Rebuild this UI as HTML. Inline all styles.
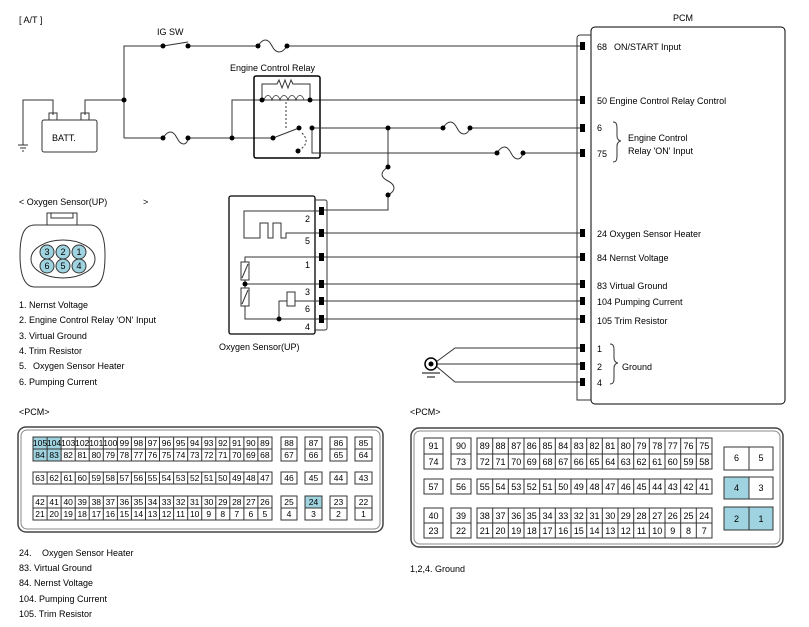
<!DOCTYPE html>
<html><head><meta charset="utf-8"><style>
body{margin:0;background:#fff}
svg{display:block;font-family:"Liberation Sans",Arial,sans-serif;font-size:9px}
text{fill:#000}
.c text{text-anchor:middle}
</style></head><body>
<svg width="809" height="627" viewBox="0 0 809 627" xmlns="http://www.w3.org/2000/svg">
<g fill="none" stroke="#333" stroke-width="1">
<path d="M124,138V46H163M188,46H258M287,46H583"/>
<path d="M163,46L188,42"/>
<path d="M258,46c5,-8 10,-8 14,0s10,8 15,0"/>
<path d="M23,145V100H53V115M85,115V100H124"/>
<rect x="42" y="120" width="55" height="32" rx="2"/>
<rect x="49" y="113" width="8" height="7"/><rect x="81" y="113" width="8" height="7"/>
<path d="M18,145h10M20,148h6M22,151h2"/>
<path d="M124,138H163M188,138H273"/>
<path d="M163,138c5,-8 10,-8 14,0s10,8 11,0"/>
<path d="M232,138V100H262H310H583"/>
<path d="M262,100V84H277l2,-4 3,8 3,-8 3,8 3,-8 2,4H310V100"/>
<path d="M264,100c2,-6 6,-6 8,0c2,-6 6,-6 8,0c2,-6 6,-6 8,0c2,-6 6,-6 8,0c2,-6 6,-6 8,0" stroke-width="0.8"/>
<rect x="254" y="76" width="66" height="82" rx="2" stroke-width="1.5" stroke="#000"/>
<path d="M286,102V130" stroke-dasharray="2,2"/>
<path d="M273,138L299,128M312,128H443M470,128H583M312,128V153H497M523,153H583"/>
<path d="M302,133c6,6 6,12 -4,18" stroke-dasharray="2,2"/>
<path d="M443,128c5,-8 10,-8 14,0s10,8 13,0"/>
<path d="M497,153c5,-8 10,-8 14,0s10,8 12,0"/>
<path d="M388,128V167M388,195V210H321"/>
<path d="M388,167c-8,5 -8,10 0,14s8,10 0,14"/>
<rect x="591" y="27" width="194" height="377" rx="4" stroke="#000"/>
<path d="M591,35H580a3,3 0 0 0 -3,3V400H591"/>
<rect x="229" y="196" width="86" height="138" rx="2" stroke="#000" stroke-width="1.3"/>
<path d="M315,200H325a2,2 0 0 1 2,2V328a2,2 0 0 1 -2,2H315"/>
<path d="M321,211H244V238H260V223H268V238H273V223H281V238H286V233H583"/>
<path d="M321,257H245V262M245,280V288M245,306V319H321M245,284H583M321,301H583M321,319H583M321,257H583"/>
<rect x="241" y="262" width="8" height="18"/><rect x="241" y="288" width="8" height="18"/>
<path d="M242,278L248,264M242,304L248,290"/>
<rect x="287" y="292" width="8" height="14"/>
<path d="M287,301H279V319M295,301H321"/>
<path d="M436,362L455,348H583M436,364H583M436,366L455,382H583"/>
<circle cx="431" cy="364" r="6" stroke="#000" stroke-width="1.5"/>
<path d="M422,373h18M427,377h8" stroke="#000"/>
<path d="M613,122c4,0 4,3 4,8v6c0,3 2,5 4,5c-2,0 -4,2 -4,5v8c0,5 0,8 -4,8"/>
<path d="M610,344c4,0 4,3 4,8v6c0,3 2,5 4,5c-2,0 -4,2 -4,5v8c0,5 0,8 -4,8"/>
<path d="M47,225V213H77V225M51,213V218H73V213"/>
<path d="M35,225H90c10,0 15,10 15,30s-3,32 -15,32H35c-10,0 -15,-10 -15,-32s5,-30 15,-30z"/>
<ellipse cx="63" cy="259" rx="32" ry="19"/>
</g>
<g fill="#000">
<circle cx="163" cy="46" r="2.5"/><circle cx="188" cy="46" r="2.5"/><circle cx="258" cy="46" r="2.5"/><circle cx="287" cy="46" r="2.5"/>
<circle cx="124" cy="100" r="2.5"/><circle cx="163" cy="138" r="2.5"/><circle cx="188" cy="138" r="2.5"/><circle cx="232" cy="138" r="2.5"/>
<circle cx="262" cy="100" r="2.5"/><circle cx="310" cy="100" r="2.5"/><circle cx="273" cy="138" r="2.5"/><circle cx="299" cy="128" r="2.5"/><circle cx="312" cy="128" r="2.5"/><circle cx="298" cy="151" r="2.5"/>
<circle cx="388" cy="128" r="2.5"/><circle cx="388" cy="167" r="2.5"/><circle cx="388" cy="195" r="2.5"/>
<circle cx="443" cy="128" r="2.5"/><circle cx="470" cy="128" r="2.5"/><circle cx="497" cy="153" r="2.5"/><circle cx="523" cy="153" r="2.5"/>
<circle cx="245" cy="284" r="2.5"/><circle cx="279" cy="319" r="2.5"/><circle cx="431" cy="364" r="2.5"/>
<rect x="580" y="42" width="5" height="8"/><rect x="580" y="96" width="5" height="8"/><rect x="580" y="124" width="5" height="8"/><rect x="580" y="149" width="5" height="8"/>
<rect x="580" y="229" width="5" height="8"/><rect x="580" y="253" width="5" height="8"/><rect x="580" y="280" width="5" height="8"/><rect x="580" y="297" width="5" height="8"/><rect x="580" y="315" width="5" height="8"/>
<rect x="580" y="344" width="5" height="8"/><rect x="580" y="362" width="5" height="8"/><rect x="580" y="378" width="5" height="8"/>
<rect x="319" y="207" width="5" height="8"/><rect x="319" y="229" width="5" height="8"/><rect x="319" y="253" width="5" height="8"/><rect x="319" y="280" width="5" height="8"/><rect x="319" y="297" width="5" height="8"/><rect x="319" y="315" width="5" height="8"/>
</g>
<g fill="#9fd3df" stroke="#333">
<circle cx="47" cy="252" r="7"/><circle cx="63" cy="252" r="7"/><circle cx="79" cy="252" r="7"/>
<circle cx="47" cy="266" r="7"/><circle cx="63" cy="266" r="7"/><circle cx="79" cy="266" r="7"/>
</g>
<g class="c"><text x="47" y="255">3</text><text x="63" y="255">2</text><text x="79" y="255">1</text><text x="47" y="269">6</text><text x="63" y="269">5</text><text x="79" y="269">4</text></g>
<text x="19" y="23">[ A/T ]</text>
<text x="157" y="35">IG SW</text>
<text x="230" y="71">Engine Control Relay</text>
<text x="52" y="141">BATT.</text>
<text x="673" y="21">PCM</text>
<text x="597" y="50">68</text><text x="614" y="50">ON/START Input</text>
<text x="597" y="104">50 Engine Control Relay Control</text>
<text x="597" y="131">6</text><text x="597" y="157">75</text>
<text x="628" y="141">Engine Control</text><text x="628" y="154">Relay 'ON' Input</text>
<text x="597" y="237">24 Oxygen Sensor Heater</text>
<text x="597" y="261">84 Nernst Voltage</text>
<text x="597" y="289">83 Virtual Ground</text>
<text x="597" y="305">104 Pumping Current</text>
<text x="597" y="324">105 Trim Resistor</text>
<text x="597" y="352">1</text><text x="597" y="370">2</text><text x="597" y="386">4</text>
<text x="622" y="370">Ground</text>
<text x="305" y="222">2</text><text x="305" y="244">5</text><text x="305" y="268">1</text><text x="305" y="295">3</text><text x="305" y="312">6</text><text x="305" y="330">4</text>
<text x="219" y="350">Oxygen Sensor(UP)</text>
<text x="19" y="205">&lt; Oxygen Sensor(UP)</text><text x="143" y="205">&gt;</text>
<text x="19" y="308">1. Nernst Voltage</text>
<text x="19" y="323">2. Engine Control Relay 'ON' Input</text>
<text x="19" y="339">3. Virtual Ground</text>
<text x="19" y="354">4. Trim Resistor</text>
<text x="19" y="369">5.</text><text x="33" y="369">Oxygen Sensor Heater</text>
<text x="19" y="385">6. Pumping Current</text>
<text x="19" y="415">&lt;PCM&gt;</text><text x="410" y="415">&lt;PCM&gt;</text>
<text x="19" y="556">24.</text><text x="42" y="556">Oxygen Sensor Heater</text>
<text x="19" y="571">83. Virtual Ground</text>
<text x="19" y="586">84. Nernst Voltage</text>
<text x="19" y="602">104. Pumping Current</text>
<text x="19" y="617">105. Trim Resistor</text>
<text x="410" y="572">1,2,4. Ground</text>

<rect x="18" y="427" width="365" height="105" rx="8" fill="none" stroke="#444" stroke-width="1.5"/>
<rect x="21" y="430" width="359" height="99" rx="6" fill="none" stroke="#888"/>
<g fill="#9fd3df"><rect x="33" y="437" width="28.1" height="24"/><rect x="305" y="496" width="17" height="12"/></g>
<g fill="none" stroke="#333">
<rect x="33" y="437" width="239" height="24"/><rect x="33" y="472" width="239" height="12"/><rect x="33" y="496" width="239" height="24"/>
<path d="M33,449H272M33,508H272"/>
<path d="M47.1,437V461M61.1,437V461M75.2,437V461M89.2,437V461M103.3,437V461M117.4,437V461M131.4,437V461M145.5,437V461M159.5,437V461M173.6,437V461M187.7,437V461M201.7,437V461M215.8,437V461M229.8,437V461M243.9,437V461M257.9,437V461"/>
<path d="M47.1,472V484M61.1,472V484M75.2,472V484M89.2,472V484M103.3,472V484M117.4,472V484M131.4,472V484M145.5,472V484M159.5,472V484M173.6,472V484M187.7,472V484M201.7,472V484M215.8,472V484M229.8,472V484M243.9,472V484M257.9,472V484"/>
<path d="M47.1,496V520M61.1,496V520M75.2,496V520M89.2,496V520M103.3,496V520M117.4,496V520M131.4,496V520M145.5,496V520M159.5,496V520M173.6,496V520M187.7,496V520M201.7,496V520M215.8,496V520M229.8,496V520M243.9,496V520M257.9,496V520"/>
<rect x="281" y="437" width="16" height="24"/><rect x="305" y="437" width="17" height="24"/><rect x="330" y="437" width="17" height="24"/><rect x="355" y="437" width="17" height="24"/>
<path d="M281,449H297M305,449H322M330,449H347M355,449H372"/>
<rect x="281" y="472" width="16" height="12"/><rect x="305" y="472" width="17" height="12"/><rect x="330" y="472" width="17" height="12"/><rect x="355" y="472" width="17" height="12"/>
<rect x="281" y="496" width="16" height="24"/><rect x="305" y="496" width="17" height="24"/><rect x="330" y="496" width="17" height="24"/><rect x="355" y="496" width="17" height="24"/>
<path d="M281,508H297M305,508H322M330,508H347M355,508H372"/>
</g>
<g class="c" style="font-size:8.5px">
<text x="40" y="446">105</text><text x="54.1" y="446">104</text><text x="68.2" y="446">103</text><text x="82.2" y="446">102</text><text x="96.3" y="446">101</text><text x="110.3" y="446">100</text><text x="124.4" y="446">99</text><text x="138.4" y="446">98</text><text x="152.5" y="446">97</text><text x="166.5" y="446">96</text><text x="180.6" y="446">95</text><text x="194.7" y="446">94</text><text x="208.7" y="446">93</text><text x="222.8" y="446">92</text><text x="236.8" y="446">91</text><text x="250.9" y="446">90</text><text x="264.9" y="446">89</text>
<text x="40" y="458">84</text><text x="54.1" y="458">83</text><text x="68.2" y="458">82</text><text x="82.2" y="458">81</text><text x="96.3" y="458">80</text><text x="110.3" y="458">79</text><text x="124.4" y="458">78</text><text x="138.4" y="458">77</text><text x="152.5" y="458">76</text><text x="166.5" y="458">75</text><text x="180.6" y="458">74</text><text x="194.7" y="458">73</text><text x="208.7" y="458">72</text><text x="222.8" y="458">71</text><text x="236.8" y="458">70</text><text x="250.9" y="458">69</text><text x="264.9" y="458">68</text>
<text x="40" y="481">63</text><text x="54.1" y="481">62</text><text x="68.2" y="481">61</text><text x="82.2" y="481">60</text><text x="96.3" y="481">59</text><text x="110.3" y="481">58</text><text x="124.4" y="481">57</text><text x="138.4" y="481">56</text><text x="152.5" y="481">55</text><text x="166.5" y="481">54</text><text x="180.6" y="481">53</text><text x="194.7" y="481">52</text><text x="208.7" y="481">51</text><text x="222.8" y="481">50</text><text x="236.8" y="481">49</text><text x="250.9" y="481">48</text><text x="264.9" y="481">47</text>
<text x="40" y="505">42</text><text x="54.1" y="505">41</text><text x="68.2" y="505">40</text><text x="82.2" y="505">39</text><text x="96.3" y="505">38</text><text x="110.3" y="505">37</text><text x="124.4" y="505">36</text><text x="138.4" y="505">35</text><text x="152.5" y="505">34</text><text x="166.5" y="505">33</text><text x="180.6" y="505">32</text><text x="194.7" y="505">31</text><text x="208.7" y="505">30</text><text x="222.8" y="505">29</text><text x="236.8" y="505">28</text><text x="250.9" y="505">27</text><text x="264.9" y="505">26</text>
<text x="40" y="517">21</text><text x="54.1" y="517">20</text><text x="68.2" y="517">19</text><text x="82.2" y="517">18</text><text x="96.3" y="517">17</text><text x="110.3" y="517">16</text><text x="124.4" y="517">15</text><text x="138.4" y="517">14</text><text x="152.5" y="517">13</text><text x="166.5" y="517">12</text><text x="180.6" y="517">11</text><text x="194.7" y="517">10</text><text x="208.7" y="517">9</text><text x="222.8" y="517">8</text><text x="236.8" y="517">7</text><text x="250.9" y="517">6</text><text x="264.9" y="517">5</text>
<text x="289" y="446">88</text><text x="313.5" y="446">87</text><text x="338.5" y="446">86</text><text x="363.5" y="446">85</text>
<text x="289" y="458">67</text><text x="313.5" y="458">66</text><text x="338.5" y="458">65</text><text x="363.5" y="458">64</text>
<text x="289" y="481">46</text><text x="313.5" y="481">45</text><text x="338.5" y="481">44</text><text x="363.5" y="481">43</text>
<text x="289" y="505">25</text><text x="313.5" y="505">24</text><text x="338.5" y="505">23</text><text x="363.5" y="505">22</text>
<text x="289" y="517">4</text><text x="313.5" y="517">3</text><text x="338.5" y="517">2</text><text x="363.5" y="517">1</text>
</g>

<rect x="411" y="428" width="372" height="119" rx="8" fill="none" stroke="#444" stroke-width="1.5"/>
<rect x="414" y="431" width="366" height="113" rx="6" fill="none" stroke="#888"/>
<g fill="#9fd3df"><rect x="724" y="477" width="25" height="22"/><rect x="724" y="507" width="49" height="23"/></g>
<g fill="none" stroke="#333">
<rect x="424" y="438" width="19" height="31"/><rect x="451" y="438" width="20" height="31"/><rect x="477" y="438" width="235" height="31"/>
<path d="M424,454H443M451,454H471M477,454H712"/>
<rect x="424" y="479" width="19" height="15"/><rect x="451" y="479" width="20" height="15"/><rect x="477" y="479" width="235" height="15"/>
<rect x="424" y="508" width="19" height="30"/><rect x="451" y="508" width="20" height="30"/><rect x="477" y="508" width="235" height="30"/>
<path d="M424,523H443M451,523H471M477,523H712"/>
<path d="M492.7,438V469M508.3,438V469M524,438V469M539.7,438V469M555.3,438V469M571,438V469M586.7,438V469M602.3,438V469M618,438V469M633.7,438V469M649.3,438V469M665,438V469M680.7,438V469M696.3,438V469"/>
<path d="M492.7,479V494M508.3,479V494M524,479V494M539.7,479V494M555.3,479V494M571,479V494M586.7,479V494M602.3,479V494M618,479V494M633.7,479V494M649.3,479V494M665,479V494M680.7,479V494M696.3,479V494"/>
<path d="M492.7,508V538M508.3,508V538M524,508V538M539.7,508V538M555.3,508V538M571,508V538M586.7,508V538M602.3,508V538M618,508V538M633.7,508V538M649.3,508V538M665,508V538M680.7,508V538M696.3,508V538"/>
<rect x="724" y="447" width="49" height="23"/><rect x="724" y="477" width="49" height="22"/><rect x="724" y="507" width="49" height="23"/>
<path d="M749,447V470M749,477V499M749,507V530"/>
</g>
<g class="c">
<text x="433.5" y="449">91</text><text x="461" y="449">90</text>
<text x="484.8" y="449">89</text><text x="500.5" y="449">88</text><text x="516.2" y="449">87</text><text x="531.8" y="449">86</text><text x="547.5" y="449">85</text><text x="563.2" y="449">84</text><text x="578.8" y="449">83</text><text x="594.5" y="449">82</text><text x="610.2" y="449">81</text><text x="625.8" y="449">80</text><text x="641.5" y="449">79</text><text x="657.2" y="449">78</text><text x="672.8" y="449">77</text><text x="688.5" y="449">76</text><text x="704.2" y="449">75</text>
<text x="433.5" y="465">74</text><text x="461" y="465">73</text>
<text x="484.8" y="465">72</text><text x="500.5" y="465">71</text><text x="516.2" y="465">70</text><text x="531.8" y="465">69</text><text x="547.5" y="465">68</text><text x="563.2" y="465">67</text><text x="578.8" y="465">66</text><text x="594.5" y="465">65</text><text x="610.2" y="465">64</text><text x="625.8" y="465">63</text><text x="641.5" y="465">62</text><text x="657.2" y="465">61</text><text x="672.8" y="465">60</text><text x="688.5" y="465">59</text><text x="704.2" y="465">58</text>
<text x="433.5" y="490">57</text><text x="461" y="490">56</text>
<text x="484.8" y="490">55</text><text x="500.5" y="490">54</text><text x="516.2" y="490">53</text><text x="531.8" y="490">52</text><text x="547.5" y="490">51</text><text x="563.2" y="490">50</text><text x="578.8" y="490">49</text><text x="594.5" y="490">48</text><text x="610.2" y="490">47</text><text x="625.8" y="490">46</text><text x="641.5" y="490">45</text><text x="657.2" y="490">44</text><text x="672.8" y="490">43</text><text x="688.5" y="490">42</text><text x="704.2" y="490">41</text>
<text x="433.5" y="519">40</text><text x="461" y="519">39</text>
<text x="484.8" y="519">38</text><text x="500.5" y="519">37</text><text x="516.2" y="519">36</text><text x="531.8" y="519">35</text><text x="547.5" y="519">34</text><text x="563.2" y="519">33</text><text x="578.8" y="519">32</text><text x="594.5" y="519">31</text><text x="610.2" y="519">30</text><text x="625.8" y="519">29</text><text x="641.5" y="519">28</text><text x="657.2" y="519">27</text><text x="672.8" y="519">26</text><text x="688.5" y="519">25</text><text x="704.2" y="519">24</text>
<text x="433.5" y="534">23</text><text x="461" y="534">22</text>
<text x="484.8" y="534">21</text><text x="500.5" y="534">20</text><text x="516.2" y="534">19</text><text x="531.8" y="534">18</text><text x="547.5" y="534">17</text><text x="563.2" y="534">16</text><text x="578.8" y="534">15</text><text x="594.5" y="534">14</text><text x="610.2" y="534">13</text><text x="625.8" y="534">12</text><text x="641.5" y="534">11</text><text x="657.2" y="534">10</text><text x="672.8" y="534">9</text><text x="688.5" y="534">8</text><text x="704.2" y="534">7</text>
<text x="736.5" y="461">6</text><text x="761" y="461">5</text>
<text x="736.5" y="491">4</text><text x="761" y="491">3</text>
<text x="736.5" y="522">2</text><text x="761" y="522">1</text>
</g>
</svg>
</body></html>
